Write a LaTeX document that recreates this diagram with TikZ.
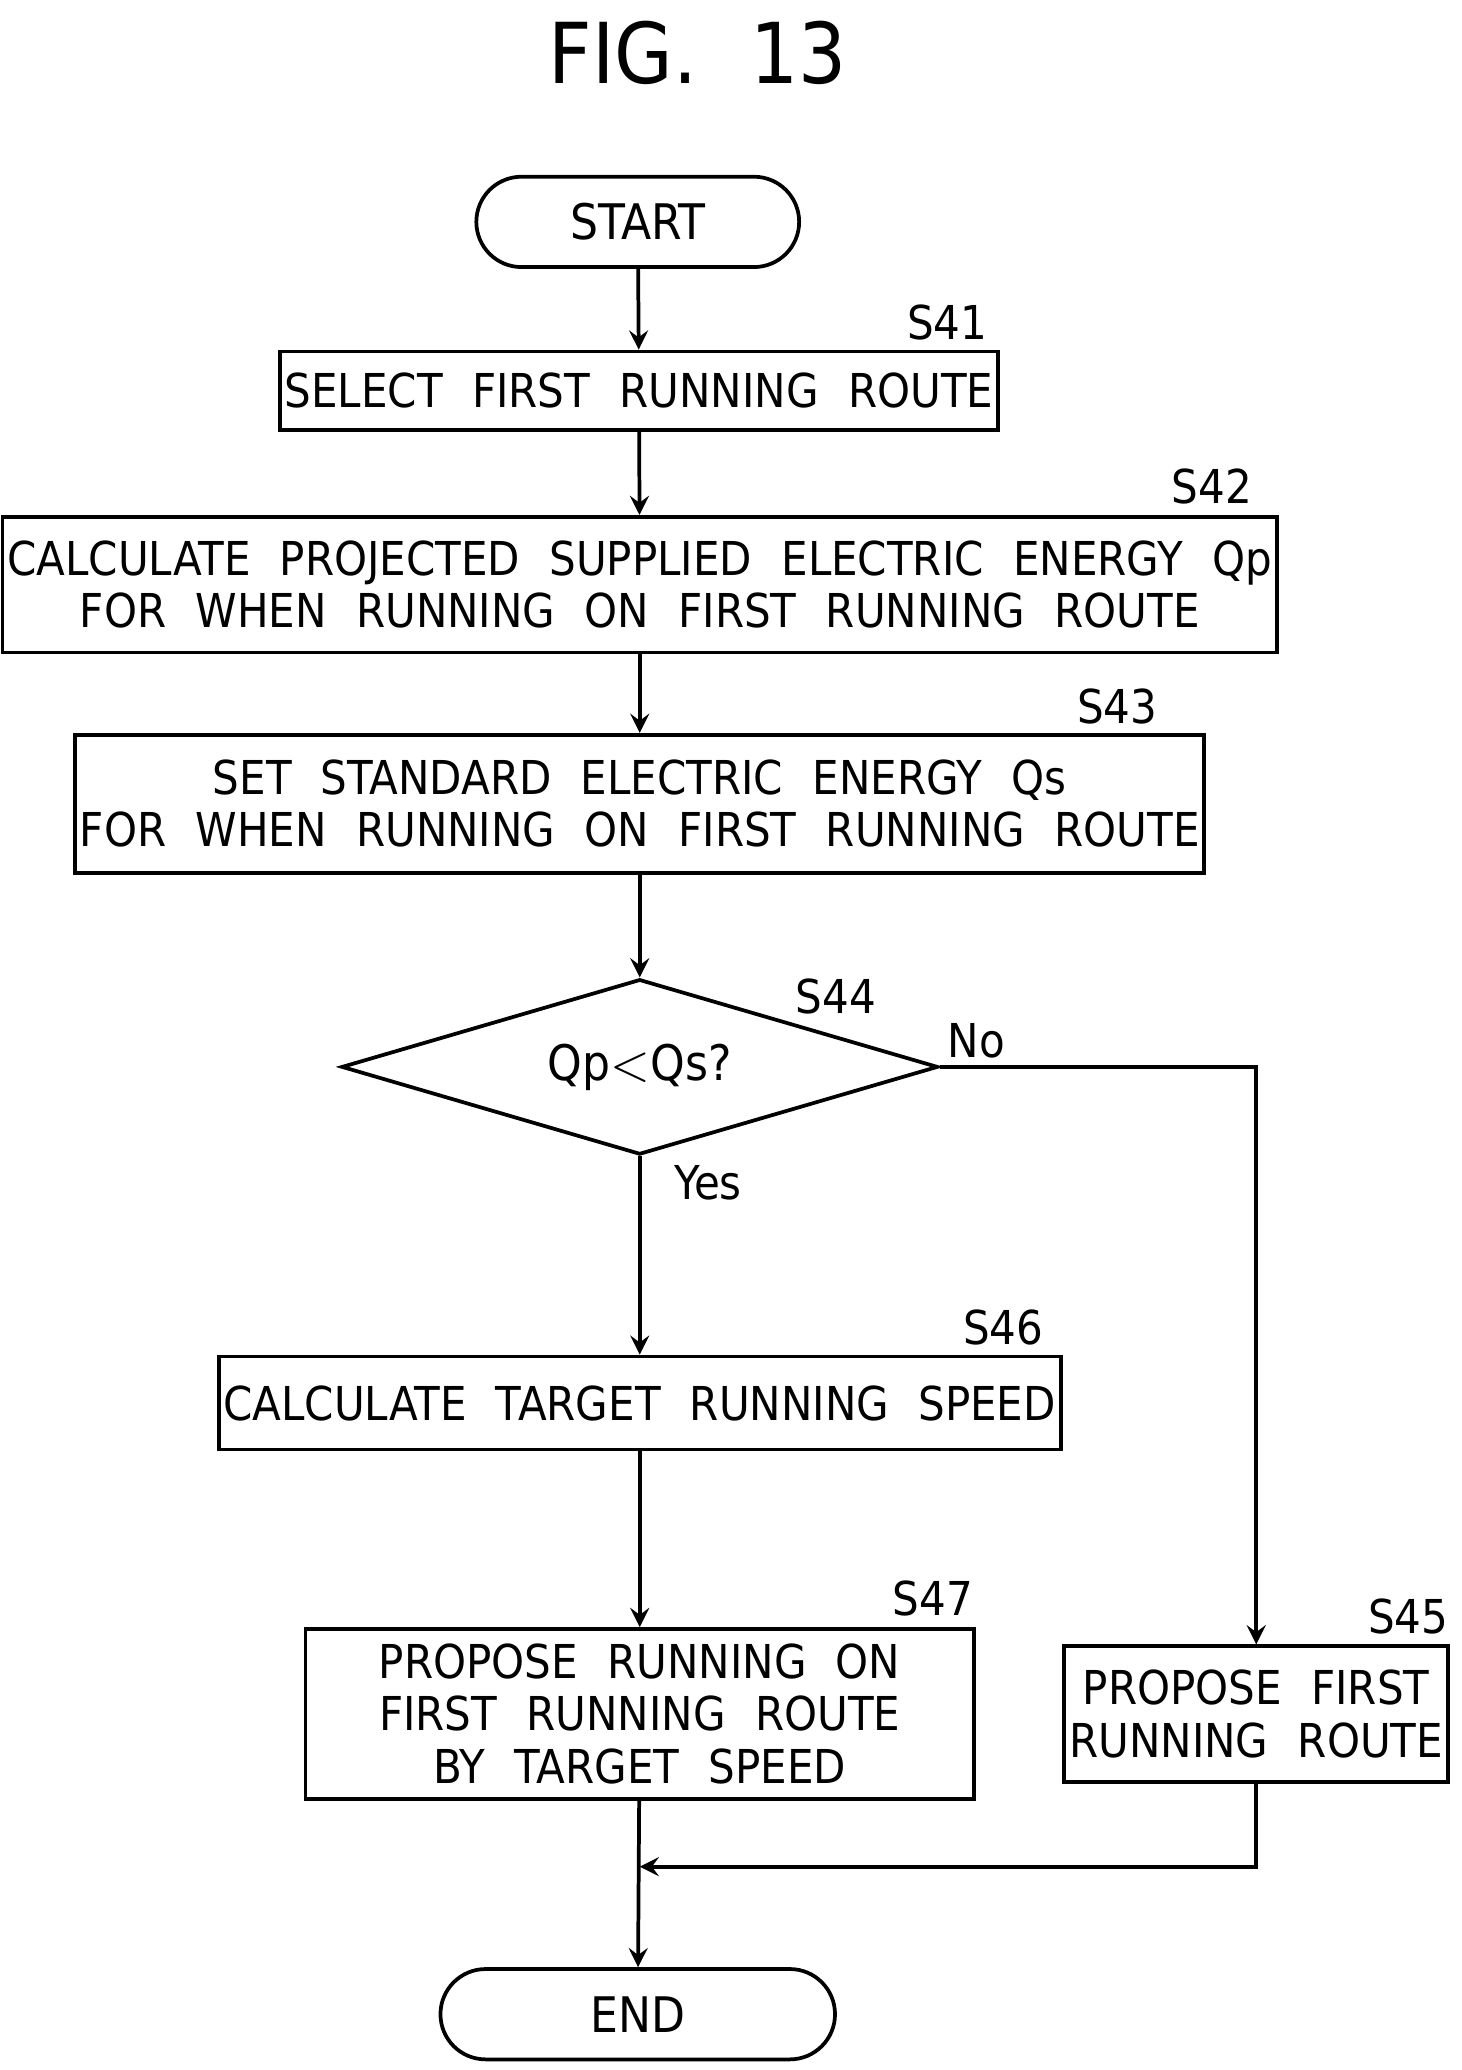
\documentclass[tikz,border=0pt]{standalone}
\usepackage{fontspec}
\setmainfont[WordSpace={2.2}]{DejaVu Sans Condensed}
\usetikzlibrary{shapes.geometric,shapes.misc,positioning}
\tikzset{
  box/.style={draw, thick, minimum height=#1, inner sep=1pt, align=center, font=\fontsize{10}{11.2}\selectfont},
  term/.style={draw, thick, rounded rectangle, minimum width=2.5cm, minimum height=0.68cm, inner sep=1pt, font=\fontsize{10.5}{12}\selectfont},
  steplabel/.style={inner sep=1pt, font=\fontsize{10}{12}\selectfont},
  flow/.style={thick, ->, >=stealth}
}
\begin{document}
\begin{tikzpicture}
\useasboundingbox (0,0) rectangle (11,-15.58);

%Title
\node[font=\fontsize{18}{20}\selectfont] (title) at (5.25,-0.4) {FIG. 13};

%Terminals
\node[term] (start) at (4.8,-1.67) {START};
\node[term, minimum width=3.04cm] (end) at (4.8,-15.16) {END};

%Steps
\node[box=0.59cm, minimum width=5.26cm] (s41) at (4.81,-2.94) {SELECT FIRST RUNNING ROUTE};
\node[box=1.02cm, minimum width=9.29cm] (s42) at (4.815,-4.40) {CALCULATE PROJECTED SUPPLIED ELECTRIC ENERGY Qp\\FOR WHEN RUNNING ON FIRST RUNNING ROUTE};
\node[box=1.04cm, minimum width=7.93cm] (s43) at (4.815,-6.05) {SET STANDARD ELECTRIC ENERGY Qs\\FOR WHEN RUNNING ON FIRST RUNNING ROUTE};
\node[draw, thick, diamond, aspect=3.4, minimum width=4.49cm, minimum height=1.32cm, inner sep=0pt, font=\fontsize{10.5}{12}\selectfont] (s44) at (4.815,-8.03) {Qp$<$Qs?};
\node[box=0.70cm, minimum width=6.13cm] (s46) at (4.815,-10.56) {CALCULATE TARGET RUNNING SPEED};
\node[box=1.28cm, minimum width=5.03cm] (s47) at (4.815,-12.90) {PROPOSE RUNNING ON\\FIRST RUNNING ROUTE\\BY TARGET SPEED};
\node[box=1.02cm, minimum width=2.89cm] (s45) at (9.455,-12.90) {PROPOSE FIRST\\RUNNING ROUTE};

%Labels
\node[steplabel] (l41) at (7.13,-2.43) {S41};
\node[steplabel] (l42) at (9.12,-3.66) {S42};
\node[steplabel] (l43) at (8.41,-5.32) {S43};
\node[steplabel] (l44) at (6.29,-7.50) {S44};
\node[steplabel] (l46) at (7.55,-9.99) {S46};
\node[steplabel] (l47) at (7.02,-12.03) {S47};
\node[steplabel] (l45) at (10.60,-12.17) {S45};
\node[steplabel] (no) at (7.35,-7.83) {No};
\node[steplabel] (yes) at (5.33,-8.90) {Yes};

%Connectors
\coordinate (merge) at (4.815,-14.05);
\draw[flow] (start) -- (s41);
\draw[flow] (s41) -- (s42);
\draw[flow] (s42) -- (s43);
\draw[flow] (s43) -- (s44);
\draw[flow] (s44) -- (s46);
\draw[flow] (s46) -- (s47);
\draw[flow] (s44.east) -| (s45.north);
\draw[flow] (s45.south) |- (merge);
\draw[flow] (s47) -- (end);
\end{tikzpicture}
\end{document}
